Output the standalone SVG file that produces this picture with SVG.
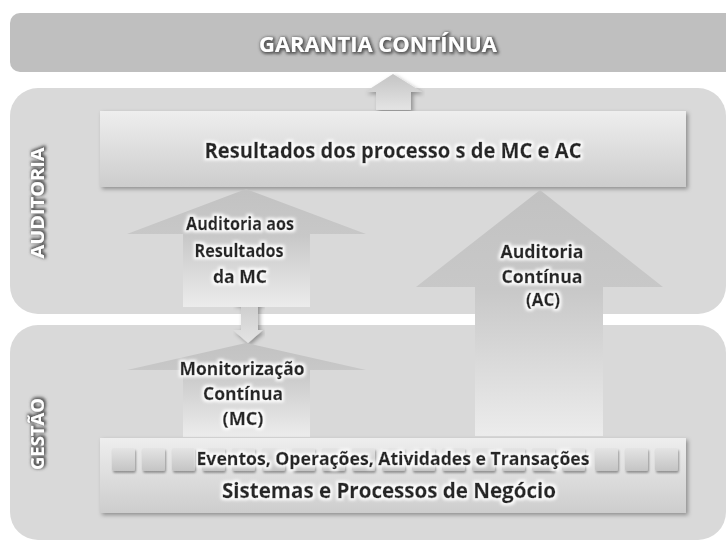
<svg xmlns="http://www.w3.org/2000/svg" width="726" height="544" viewBox="0 0 726 544">
<defs>
<style>
.t{font-family:"Open Sans","Liberation Sans",sans-serif;font-weight:700;fill:#262626;stroke:#262626;stroke-width:0.35;text-anchor:middle;filter:url(#glow)}
.w{font-family:"Open Sans","Liberation Sans",sans-serif;font-weight:700;fill:#ffffff;text-anchor:middle;filter:url(#dark)}
.lbl{font-size:18px}
.panel{fill:#d9d9d9}
.box{filter:url(#shadow)}
.sq{fill:url(#sqg);filter:url(#sqs)}
</style>
<filter id="glow" x="-20%" y="-50%" width="140%" height="200%">
<feMorphology in="SourceAlpha" operator="dilate" radius="1.6" result="d"/>
<feGaussianBlur in="d" stdDeviation="1.6" result="b"/>
<feFlood flood-color="#ffffff" flood-opacity="0.95"/>
<feComposite in2="b" operator="in" result="g"/>
<feMerge><feMergeNode in="g"/><feMergeNode in="SourceGraphic"/></feMerge>
</filter>
<filter id="dark" x="-20%" y="-50%" width="140%" height="200%">
<feMorphology in="SourceAlpha" operator="dilate" radius="1" result="d"/>
<feGaussianBlur in="d" stdDeviation="1.5" result="b"/>
<feOffset in="b" dx="0.8" dy="0.8" result="o"/>
<feFlood flood-color="#4a4a4a" flood-opacity="0.9"/>
<feComposite in2="o" operator="in" result="g"/>
<feMerge><feMergeNode in="g"/><feMergeNode in="SourceGraphic"/></feMerge>
</filter>
<filter id="shadow" x="-5%" y="-20%" width="110%" height="140%">
<feGaussianBlur in="SourceAlpha" stdDeviation="2" result="b"/>
<feOffset in="b" dx="1.5" dy="2" result="o"/>
<feFlood flood-color="#000" flood-opacity="0.35"/>
<feComposite in2="o" operator="in" result="s"/>
<feMerge><feMergeNode in="s"/><feMergeNode in="SourceGraphic"/></feMerge>
</filter>
<filter id="sqs" x="-30%" y="-30%" width="160%" height="160%">
<feGaussianBlur in="SourceAlpha" stdDeviation="1.2" result="b"/>
<feOffset in="b" dx="1.2" dy="1.5" result="o"/>
<feFlood flood-color="#000" flood-opacity="0.35"/>
<feComposite in2="o" operator="in" result="s"/>
<feMerge><feMergeNode in="s"/><feMergeNode in="SourceGraphic"/></feMerge>
</filter>
<linearGradient id="boxg" x1="0" y1="0" x2="0" y2="1">
<stop offset="0" stop-color="#eeeeee"/>
<stop offset="1" stop-color="#cdcdcd"/>
</linearGradient>
<linearGradient id="sqg" x1="0" y1="0" x2="0" y2="1">
<stop offset="0" stop-color="#e4e4e4"/>
<stop offset="1" stop-color="#c4c4c4"/>
</linearGradient>
<linearGradient id="ar1" gradientUnits="userSpaceOnUse" x1="0" y1="189" x2="0" y2="307">
<stop offset="0" stop-color="#c2c2c2"/>
<stop offset="0.4" stop-color="#c8c8c8"/>
<stop offset="1" stop-color="#ececec"/>
</linearGradient>
<linearGradient id="ar2" gradientUnits="userSpaceOnUse" x1="0" y1="343" x2="0" y2="437">
<stop offset="0" stop-color="#c2c2c2"/>
<stop offset="0.3" stop-color="#c8c8c8"/>
<stop offset="1" stop-color="#ececec"/>
</linearGradient>
<linearGradient id="ar3" gradientUnits="userSpaceOnUse" x1="0" y1="190" x2="0" y2="436">
<stop offset="0" stop-color="#c2c2c2"/>
<stop offset="0.4" stop-color="#c8c8c8"/>
<stop offset="1" stop-color="#ececec"/>
</linearGradient>
<linearGradient id="ar4" x1="0" y1="0" x2="0" y2="1">
<stop offset="0" stop-color="#c4c4c4"/>
<stop offset="1" stop-color="#e4e4e4"/>
</linearGradient>
</defs>
<rect width="726" height="544" fill="#ffffff"/>

<g id="garantia">
<rect x="10" y="13" width="730" height="59" rx="10" fill="#bfbfbf"/>
<text class="w" x="378" y="52" font-size="22" textLength="238" lengthAdjust="spacingAndGlyphs">GARANTIA CONTÍNUA</text>
</g>

<g id="auditoria">
<rect class="panel" x="10" y="88" width="716" height="226" rx="28"/>
<text class="w" transform="translate(44,203) rotate(-90)" x="0" y="0" font-size="18" textLength="111" lengthAdjust="spacingAndGlyphs">AUDITORIA</text>
</g>

<g id="gestao">
<rect class="panel" x="10" y="325" width="716" height="215" rx="28"/>
<text class="w" transform="translate(44,434) rotate(-90)" x="0" y="0" font-size="18" textLength="72" lengthAdjust="spacingAndGlyphs">GESTÃO</text>
</g>

<g id="connectors">
<path d="M393,74 L422,92 L411,92 L411,110 L376,110 L376,92 L365,92 Z" fill="url(#ar4)" class="box"/>
<path d="M248,288 L263,305 L258,305 L258,330 L263,330 L248,343 L233,330 L241,330 L241,305 L233,305 Z" fill="url(#ar4)" class="box"/>
</g>

<g id="resultados">
<rect class="box" x="100" y="111" width="586" height="76" fill="url(#boxg)"/>
<text class="t" x="393" y="158" font-size="22" textLength="377" lengthAdjust="spacingAndGlyphs">Resultados dos processo s de MC e AC</text>
</g>

<g id="auditoria-mc">
<path d="M246,189 L366,234 L310,234 L310,307 L183,307 L183,234 L127,234 Z" fill="url(#ar1)"/>
<text class="t lbl" x="240" y="230" textLength="108" lengthAdjust="spacingAndGlyphs">Auditoria aos</text>
<text class="t lbl" x="239" y="257" textLength="89" lengthAdjust="spacingAndGlyphs">Resultados</text>
<text class="t lbl" x="240" y="283" textLength="54" lengthAdjust="spacingAndGlyphs">da MC</text>
</g>

<g id="auditoria-continua">
<path d="M540,190 L663,287 L603,287 L603,436 L475,436 L475,287 L416,287 Z" fill="url(#ar3)"/>
<text class="t lbl" x="542" y="258" textLength="83" lengthAdjust="spacingAndGlyphs">Auditoria</text>
<text class="t lbl" x="542" y="283" textLength="81" lengthAdjust="spacingAndGlyphs">Contínua</text>
<text class="t lbl" x="543" y="306" textLength="34" lengthAdjust="spacingAndGlyphs">(AC)</text>
</g>

<g id="monitorizacao">
<path d="M246,343 L366,370 L310,370 L310,437 L183,437 L183,370 L127,370 Z" fill="url(#ar2)"/>
<text class="t lbl" x="242" y="375" textLength="125" lengthAdjust="spacingAndGlyphs">Monitorização</text>
<text class="t lbl" x="243" y="400" textLength="80" lengthAdjust="spacingAndGlyphs">Contínua</text>
<text class="t lbl" x="243" y="425" textLength="41" lengthAdjust="spacingAndGlyphs">(MC)</text>
</g>

<g id="sistemas">
<rect class="box" x="100" y="438" width="586" height="75" fill="url(#boxg)"/>
<g>
<rect class="sq" x="112" y="448" width="23" height="23" rx="2"/>
<rect class="sq" x="142" y="448" width="23" height="23" rx="2"/>
<rect class="sq" x="172" y="448" width="23" height="23" rx="2"/>
<rect class="sq" x="202" y="448" width="23" height="23" rx="2"/>
<rect class="sq" x="232" y="448" width="23" height="23" rx="2"/>
<rect class="sq" x="262" y="448" width="23" height="23" rx="2"/>
<rect class="sq" x="292" y="448" width="23" height="23" rx="2"/>
<rect class="sq" x="322" y="448" width="23" height="23" rx="2"/>
<rect class="sq" x="352" y="448" width="23" height="23" rx="2"/>
<rect class="sq" x="382" y="448" width="23" height="23" rx="2"/>
<rect class="sq" x="412" y="448" width="23" height="23" rx="2"/>
<rect class="sq" x="442" y="448" width="23" height="23" rx="2"/>
<rect class="sq" x="472" y="448" width="23" height="23" rx="2"/>
<rect class="sq" x="502" y="448" width="23" height="23" rx="2"/>
<rect class="sq" x="532" y="448" width="23" height="23" rx="2"/>
<rect class="sq" x="562" y="448" width="23" height="23" rx="2"/>
<rect class="sq" x="595" y="448" width="23" height="23" rx="2"/>
<rect class="sq" x="625" y="448" width="23" height="23" rx="2"/>
<rect class="sq" x="655" y="448" width="23" height="23" rx="2"/>
</g>
<text class="t" x="393" y="465" font-size="18" textLength="393" lengthAdjust="spacingAndGlyphs">Eventos, Operações, Atividades e Transações</text>
<text class="t" x="389" y="498" font-size="22" textLength="334" lengthAdjust="spacingAndGlyphs">Sistemas e Processos de Negócio</text>
</g>
</svg>
